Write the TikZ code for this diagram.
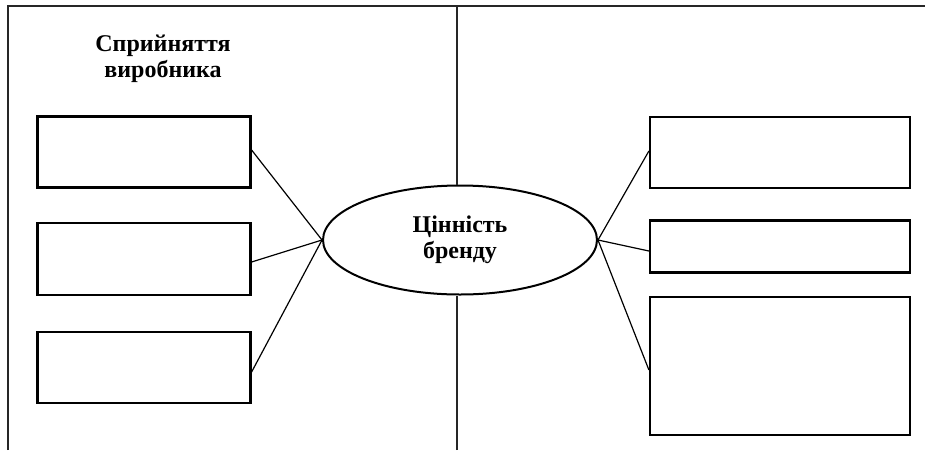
\documentclass[tikz,border=0pt]{standalone}
\usepackage{fontspec}
\setmainfont{Liberation Serif}
\usetikzlibrary{shapes.geometric}
\begin{document}
\begin{tikzpicture}[x=1pt,y=-1pt,
  frameline/.style={line width=2.3pt, draw=black!85},
  emptybox/.style={draw=black, line width=2.2pt, rectangle, inner sep=0pt},
  link/.style={draw=black, line width=1.2pt},
  heading/.style={font=\bfseries\fontsize{24}{26.5}\selectfont, align=center, inner sep=0pt}]
  \useasboundingbox (0,0) rectangle (925,450);

  % outer frame: left edge and top edge
  \coordinate (fbl) at (8,450);
  \coordinate (ftl) at (8,6);
  \coordinate (ftr) at (925,6);
  \draw[frameline] (fbl) -- (ftl) -- (ftr);

  % heading of the left half
  \node[heading] (head) at (163,59) {Сприйняття\\виробника};

  % central ellipse
  \node[ellipse, draw, line width=2pt, minimum width=274pt, minimum height=109pt,
        inner sep=0pt, font=\bfseries\fontsize{24}{26.5}\selectfont, align=center]
        (brand) at (460,240) {Цінність\\бренду};

  % vertical divider, interrupted by the ellipse
  \coordinate (vt) at (457,6);
  \coordinate (vb) at (457,450);
  \draw[frameline] (vt) -- (vt |- brand.north);
  \draw[frameline] (vb) -- (vb |- brand.south);

  % left boxes
  \node[emptybox, minimum width=213pt, minimum height=71pt] (l1) at (144,152) {};
  \node[emptybox, minimum width=213pt, minimum height=72pt] (l2) at (144,259) {};
  \node[emptybox, minimum width=213pt, minimum height=71pt] (l3) at (144,367.5) {};

  % right boxes
  \node[emptybox, minimum width=260pt, minimum height=71pt] (r1) at (780,152.5) {};
  \node[emptybox, minimum width=260pt, minimum height=52pt] (r2) at (780,246.5) {};
  \node[emptybox, minimum width=260pt, minimum height=138pt] (r3) at (780,366) {};

  % connectors from the ellipse to the boxes
  \draw[link] ([yshift=2pt]l1.east) -- (brand.west);
  \draw[link] ([yshift=-3pt]l2.east) -- (brand.west);
  \draw[link] ([yshift=-4.5pt]l3.east) -- (brand.west);
  \draw[link] ([yshift=1.5pt]r1.west) -- (brand.east);
  \draw[link] ([yshift=-4.5pt]r2.west) -- (brand.east);
  \draw[link] ([yshift=-4pt]r3.west) -- (brand.east);
\end{tikzpicture}
\end{document}
